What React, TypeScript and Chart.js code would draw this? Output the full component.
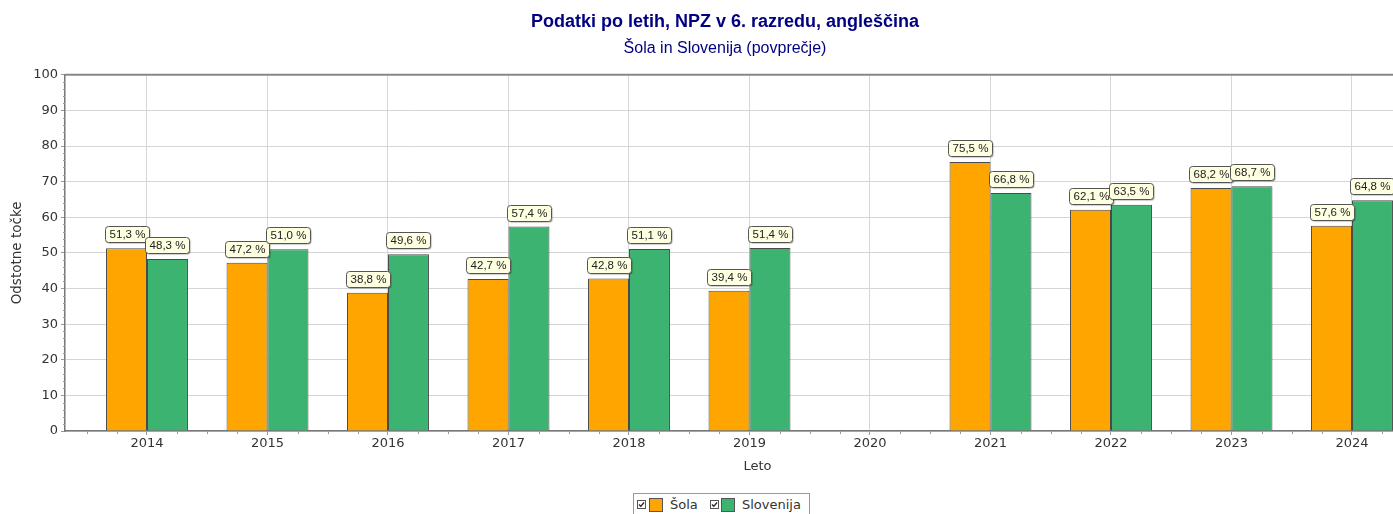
import React, { useEffect, useRef } from "react";
import { Chart, registerables } from "chart.js";

Chart.register(...registerables);

const years: number[] = [2014, 2015, 2016, 2017, 2018, 2019, 2020, 2021, 2022, 2023, 2024];
const sola: (number | null)[] = [51.3, 47.2, 38.8, 42.7, 42.8, 39.4, null, 75.5, 62.1, 68.2, 57.6];
const slovenija: (number | null)[] = [48.3, 51.0, 49.6, 57.4, 51.1, 51.4, null, 66.8, 63.5, 68.7, 64.8];
const seriesNames: string[] = ["Šola", "Slovenija"];
const seriesColors: string[] = ["#FFA500", "#3CB371"];
const titleText = "Podatki po letih, NPZ v 6. razredu, angleščina";
const subtitleText = "Šola in Slovenija (povprečje)";
const yTitle = "Odstotne točke";
const xTitle = "Leto";

const valueLabels = {
  id: "valueLabels",
  afterDatasetsDraw(chart: any) {
    const ctx = chart.ctx;
    ctx.save();
    ctx.font = '11.5px "Liberation Sans", Arial, sans-serif';
    chart.data.datasets.forEach((ds: any, di: number) => {
      const meta = chart.getDatasetMeta(di);
      meta.data.forEach((el: any, i: number) => {
        const v = ds.data[i].y;
        if (v == null) return;
        const text = v.toFixed(1).replace(".", ",") + " %";
        const w = Math.round(ctx.measureText(text).width + 8);
        const h = 16;
        const x = Math.round(el.x - w / 2) + 0.5;
        const y = Math.round(el.y - 6 - h) + 0.5;
        ctx.save();
        ctx.shadowColor = "rgba(0,0,0,0.35)";
        ctx.shadowOffsetX = 1;
        ctx.shadowOffsetY = 1;
        ctx.shadowBlur = 1;
        ctx.beginPath();
        ctx.roundRect(x, y, w, h, 3);
        ctx.fillStyle = "#FFFFE1";
        ctx.fill();
        ctx.restore();
        ctx.beginPath();
        ctx.roundRect(x, y, w, h, 3);
        ctx.strokeStyle = "#555";
        ctx.lineWidth = 1;
        ctx.stroke();
        ctx.fillStyle = "#222";
        ctx.textAlign = "center";
        ctx.textBaseline = "middle";
        ctx.fillText(text, x + w / 2, y + h / 2 + 0.5);
      });
    });
    ctx.restore();
  },
};

const minorTicks = {
  id: "minorTicks",
  afterDraw(chart: any) {
    const ctx = chart.ctx;
    const xs = chart.scales.x;
    const ys = chart.scales.y;
    const area = chart.chartArea;
    ctx.save();
    ctx.strokeStyle = "#999";
    ctx.lineWidth = 1;
    ctx.beginPath();
    for (let v = Math.ceil(xs.min * 4) / 4; v <= xs.max; v += 0.25) {
      if (Math.abs(v - Math.round(v)) < 1e-6) continue;
      const px = Math.round(xs.getPixelForValue(v)) + 0.5;
      ctx.moveTo(px, area.bottom);
      ctx.lineTo(px, area.bottom + 3);
    }
    for (let v = 0; v <= 100; v += 2) {
      if (v % 10 === 0) continue;
      const py = Math.round(ys.getPixelForValue(v)) + 0.5;
      ctx.moveTo(area.left - 2, py);
      ctx.lineTo(area.left, py);
    }
    ctx.stroke();
    ctx.strokeStyle = "#888";
    ctx.lineWidth = 2;
    ctx.beginPath();
    ctx.moveTo(area.left, area.top);
    ctx.lineTo(area.right, area.top);
    ctx.stroke();
    ctx.restore();
  },
};

function CheckBox() {
  return (
    <svg width="9" height="9" viewBox="0 0 9 9" style={{ display: "block" }}>
      <rect x="0.5" y="0.5" width="8" height="8" fill="#fff" stroke="#555" />
      <path d="M2 4.5 L3.8 6.3 L7 2.5" fill="none" stroke="#222" strokeWidth="1.3" />
    </svg>
  );
}

export default function App() {
  const canvasRef = useRef<HTMLCanvasElement>(null);

  useEffect(() => {
    if (!canvasRef.current) return;
    const step = 120.5;
    const xmin = 2014 - 82 / step;
    const xmax = xmin + 1385 / step;
    const chart = new Chart(canvasRef.current, {
      type: "bar",
      data: {
        datasets: [sola, slovenija].map((arr, si) => ({
          label: seriesNames[si],
          data: years.map((yr, i) => ({ x: yr, y: arr[i] })),
          backgroundColor: seriesColors[si],
          borderColor: "#4a4a4a",
          borderWidth: 1,
          categoryPercentage: 0.68,
          barPercentage: 1.0,
        })),
      },
      options: {
        responsive: false,
        animation: false,
        layout: { padding: { left: 0, right: 0, top: 0, bottom: 36 } },
        plugins: {
          legend: { display: false },
          tooltip: { enabled: false },
          title: {
            display: true,
            text: titleText,
            color: "#000080",
            font: { family: '"Liberation Sans", Arial, sans-serif', size: 18, weight: "bold" },
            padding: { top: 11, bottom: 4 },
          },
          subtitle: {
            display: true,
            text: subtitleText,
            color: "#000080",
            font: { family: '"Liberation Sans", Arial, sans-serif', size: 16 },
            padding: { top: 2, bottom: 17 },
          },
        },
        scales: {
          x: {
            type: "linear",
            offset: false,
            min: xmin,
            max: xmax,
            afterFit: (s: any) => {
              s.height = 47;
            },
            ticks: {
              stepSize: 1,
              includeBounds: false,
              autoSkip: false,
              maxRotation: 0,
              padding: 1,
              color: "#333",
              font: { family: '"DejaVu Sans", Verdana, sans-serif', size: 13 },
              callback: (v: any) => String(v),
            },
            grid: { offset: false, color: "#d6d6d6", tickLength: 4, tickColor: "#999" },
            border: { color: "#777", width: 1.5 },
            title: {
              display: true,
              text: xTitle,
              color: "#333",
              font: { family: '"DejaVu Sans", Verdana, sans-serif', size: 13 },
              padding: { top: 4, bottom: 4 },
            },
          },
          y: {
            min: 0,
            max: 100,
            afterFit: (s: any) => {
              s.width = 65;
            },
            ticks: {
              stepSize: 10,
              padding: 3,
              color: "#333",
              font: { family: '"DejaVu Sans", Verdana, sans-serif', size: 13 },
            },
            grid: { color: "#d6d6d6", tickLength: 4, tickColor: "#999" },
            border: { color: "#777", width: 1.5 },
            title: {
              display: true,
              text: yTitle,
              color: "#333",
              font: { family: '"DejaVu Sans", Verdana, sans-serif', size: 13.5 },
              padding: { top: 9, bottom: 4 },
            },
          },
        },
      },
      plugins: [valueLabels, minorTicks],
    } as any);
    return () => chart.destroy();
  }, []);

  const legendFont = '"DejaVu Sans", Verdana, sans-serif';
  return (
    <div
      style={{
        position: "absolute",
        left: 0,
        top: 0,
        width: 1393,
        height: 514,
        overflow: "hidden",
        background: "#fff",
      }}
    >
      <canvas ref={canvasRef} width={1450} height={514} style={{ display: "block", width: 1450, height: 514 }} />
      <div
        style={{
          position: "absolute",
          left: 633,
          top: 493,
          width: 177,
          height: 26,
          border: "1px solid #999",
          boxSizing: "border-box",
          background: "#fff",
          fontFamily: legendFont,
          fontSize: 13,
          color: "#333",
        }}
      >
        <div style={{ position: "absolute", left: 3, top: 6 }}>
          <CheckBox />
        </div>
        <div
          style={{
            position: "absolute",
            left: 15,
            top: 4,
            width: 14,
            height: 14,
            boxSizing: "border-box",
            background: seriesColors[0],
            border: "1px solid #555",
          }}
        />
        <div style={{ position: "absolute", left: 36, top: 2, lineHeight: "18px", whiteSpace: "nowrap" }}>
          {seriesNames[0]}
        </div>
        <div style={{ position: "absolute", left: 76, top: 6 }}>
          <CheckBox />
        </div>
        <div
          style={{
            position: "absolute",
            left: 87,
            top: 4,
            width: 14,
            height: 14,
            boxSizing: "border-box",
            background: seriesColors[1],
            border: "1px solid #555",
          }}
        />
        <div style={{ position: "absolute", left: 108, top: 2, lineHeight: "18px", whiteSpace: "nowrap" }}>
          {seriesNames[1]}
        </div>
      </div>
    </div>
  );
}
